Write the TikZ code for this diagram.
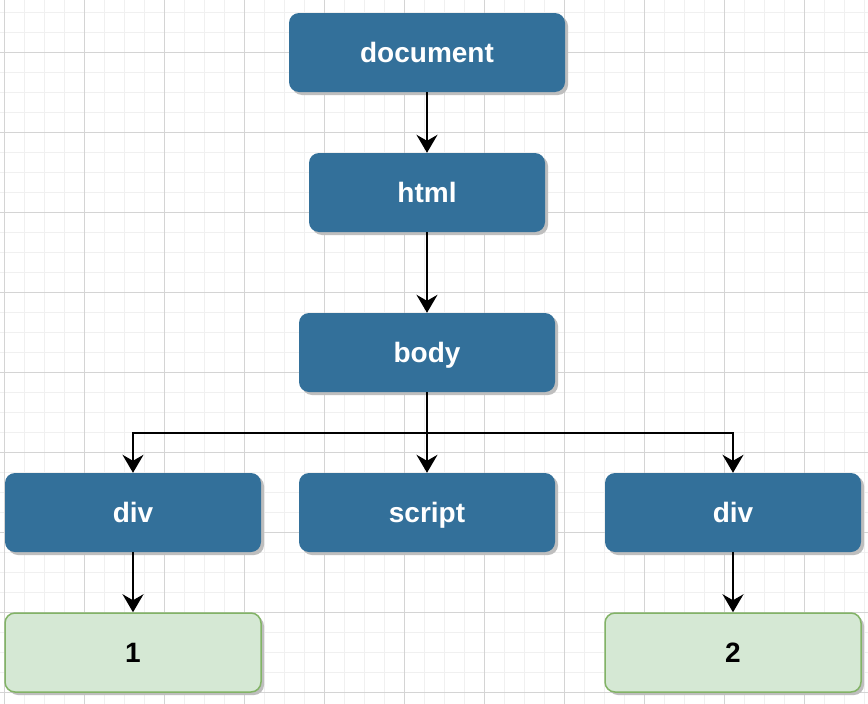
\documentclass[tikz,border=0pt]{standalone}
\usepackage{fontspec}
\setmainfont{Liberation Sans}
\usetikzlibrary{arrows.meta,shadows}
\definecolor{nodeblue}{RGB}{51,112,154}
\definecolor{leafgreen}{RGB}{213,232,212}
\definecolor{leafborder}{RGB}{130,179,102}
\definecolor{gridminor}{RGB}{240,240,240}
\definecolor{gridmajor}{RGB}{212,212,212}
\definecolor{shadowgray}{RGB}{190,190,190}
\tikzset{
  box/.style={rectangle, rounded corners=10pt, minimum height=79pt,
    text height=20pt, text depth=0pt, inner sep=0pt,
    font=\bfseries\fontsize{28}{30}\selectfont,
    drop shadow={shadow xshift=3pt, shadow yshift=-3pt, fill=shadowgray, opacity=1}},
  bluebox/.style={box, fill=nodeblue, text=white, draw=none},
  leafbox/.style={box, fill=leafgreen, draw=leafborder, line width=1.5pt, text=black},
  conn/.style={draw=black, line width=2pt, -{Stealth[length=18pt,width=21pt,inset=6pt]}}
}
\begin{document}
\begin{tikzpicture}[x=1pt,y=-1pt]
\useasboundingbox (0,0) rectangle (868,704);
\fill[white] (0,0) rectangle (868,704);
% grid
\foreach \gx in {4,24,...,864} \draw[gridminor, line width=1pt] (\gx,0) -- (\gx,704);
\foreach \gy in {12,32,...,692} \draw[gridminor, line width=1pt] (0,\gy) -- (868,\gy);
\foreach \gx in {4,84,...,804} \draw[gridmajor, line width=1pt] (\gx,0) -- (\gx,704);
\foreach \gy in {52,132,...,692} \draw[gridmajor, line width=1pt] (0,\gy) -- (868,\gy);
% nodes
\node[bluebox, minimum width=276pt] (document) at (427,52.5) {document};
\node[bluebox, minimum width=236pt] (html) at (427,192.5) {html};
\node[bluebox, minimum width=256pt] (body) at (427,352.5) {body};
\node[bluebox, minimum width=256pt] (div1) at (133,512.5) {div};
\node[bluebox, minimum width=256pt] (script) at (427,512.5) {script};
\node[bluebox, minimum width=256pt] (div2) at (733,512.5) {div};
\node[leafbox, minimum width=256pt] (leaf1) at (133,652.5) {1};
\node[leafbox, minimum width=256pt] (leaf2) at (733,652.5) {2};
\coordinate (split) at (427,433);
% connectors
\draw[conn] (document.south) -- (html.north);
\draw[conn] (html.south) -- (body.north);
\draw[conn] (body.south) -- (script.north);
\draw[conn] (split) -| (div1.north);
\draw[conn] (split) -| (div2.north);
\draw[conn] (div1.south) -- (leaf1.north);
\draw[conn] (div2.south) -- (leaf2.north);
\end{tikzpicture}
\end{document}
